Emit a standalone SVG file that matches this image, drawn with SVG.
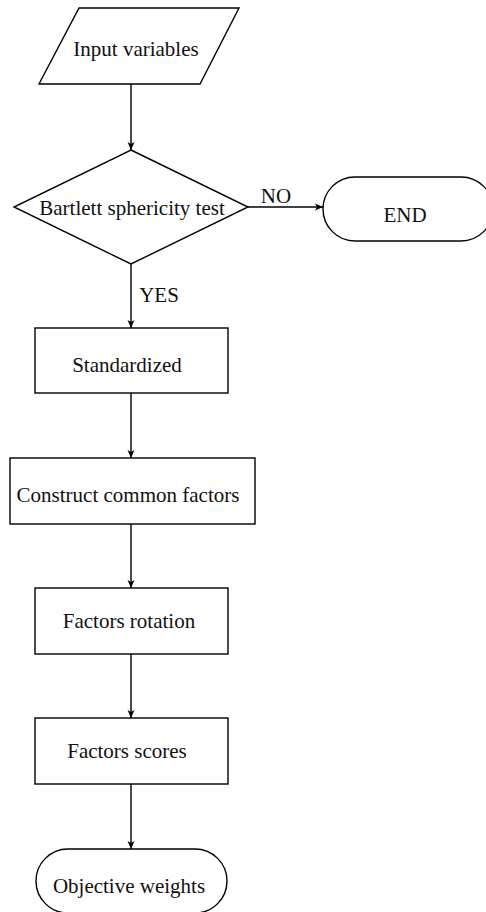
<svg xmlns="http://www.w3.org/2000/svg" width="486" height="912" viewBox="0 0 486 912">
<style>
.s{fill:#fff;stroke:#000;stroke-width:1.4}
.t{font-family:"Liberation Serif","Times New Roman",serif;font-size:21px;fill:#111;text-anchor:middle}
.c{fill:none;stroke:#000;stroke-width:1.4}
</style>
<defs>
<marker id="ah" markerWidth="10" markerHeight="10" refX="8" refY="4" orient="auto" markerUnits="userSpaceOnUse">
<path d="M0,0.5 L8,4 L0,7.5 L2,4 Z" fill="#000"/>
</marker>
</defs>
<rect width="486" height="912" fill="#fff"/>
<g id="connectors">
<line class="c" x1="131" y1="84" x2="131" y2="150" marker-end="url(#ah)"/>
<line class="c" x1="248" y1="207" x2="323" y2="207" marker-end="url(#ah)"/>
<line class="c" x1="131" y1="264" x2="131" y2="328" marker-end="url(#ah)"/>
<line class="c" x1="131" y1="393" x2="131" y2="458" marker-end="url(#ah)"/>
<line class="c" x1="131" y1="524" x2="131" y2="588" marker-end="url(#ah)"/>
<line class="c" x1="131" y1="654" x2="131" y2="718" marker-end="url(#ah)"/>
<line class="c" x1="131" y1="784" x2="131" y2="849" marker-end="url(#ah)"/>
<text class="t" x="276" y="203">NO</text>
<text class="t" x="159" y="302">YES</text>
</g>
<g id="input">
<polygon class="s" points="79,8 239,8 200,84 39,84"/>
<text class="t" x="136" y="56">Input variables</text>
</g>
<g id="bartlett">
<polygon class="s" points="131,150 248,207 131,264 14,207"/>
<text class="t" x="132" y="215">Bartlett sphericity test</text>
</g>
<g id="end">
<rect class="s" x="323" y="177" width="170" height="64" rx="32" ry="32"/>
<text class="t" x="405" y="222">END</text>
</g>
<g id="standardized">
<rect class="s" x="35" y="328" width="193" height="65"/>
<text class="t" x="127" y="372">Standardized</text>
</g>
<g id="construct">
<rect class="s" x="10" y="458" width="245" height="66"/>
<text class="t" x="128" y="502">Construct common factors</text>
</g>
<g id="rotation">
<rect class="s" x="35" y="588" width="193" height="66"/>
<text class="t" x="129" y="628">Factors rotation</text>
</g>
<g id="scores">
<rect class="s" x="35" y="718" width="193" height="66"/>
<text class="t" x="127" y="758">Factors scores</text>
</g>
<g id="weights">
<rect class="s" x="36" y="849" width="191" height="64" rx="32" ry="32"/>
<text class="t" x="129" y="893">Objective weights</text>
</g>
</svg>
